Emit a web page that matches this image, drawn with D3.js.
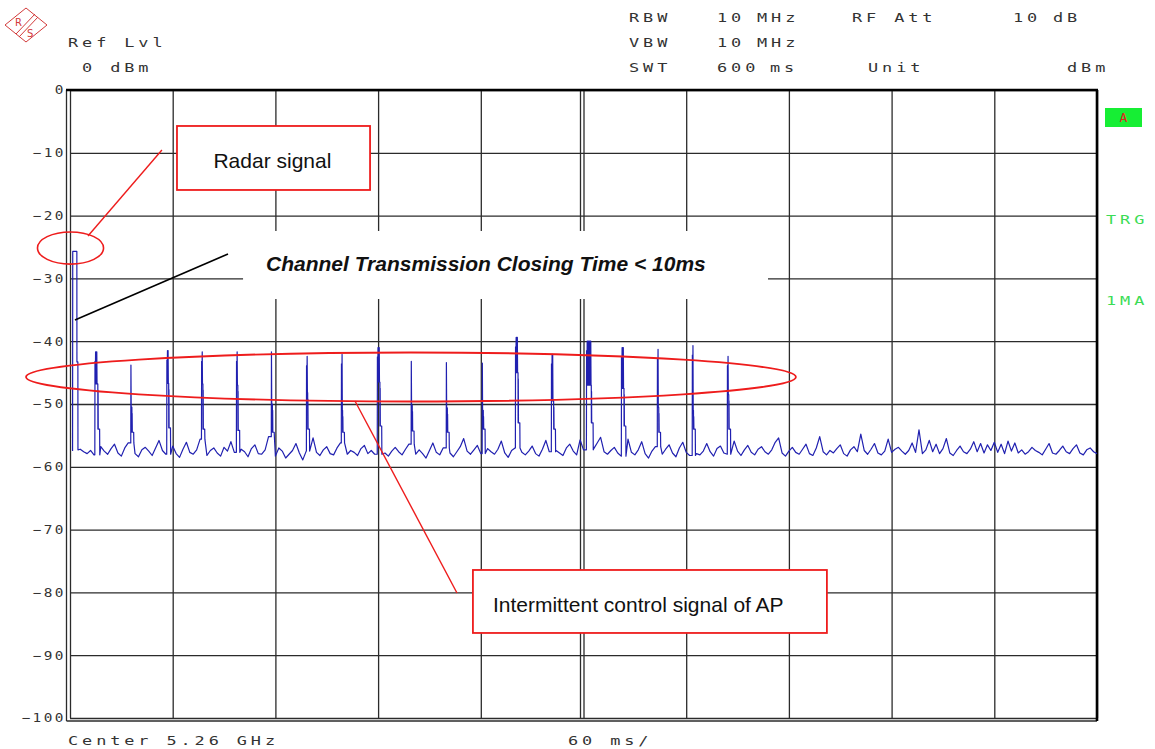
<!DOCTYPE html>
<html>
<head>
<meta charset="utf-8">
<script src="https://cdn.jsdelivr.net/npm/d3@7"></script>
<style>
  body { margin: 0; background: #fff; }
  text.inst { font-family: "DejaVu Sans Mono", monospace; font-size: 13px; fill: #333; letter-spacing: 3px; }
  text.note { font-family: "Liberation Sans", Arial, sans-serif; font-size: 21px; fill: #111; }
</style>
</head>
<body>
<svg id="chart" width="1155" height="749"></svg>
<script>

/*********************/
/*** DATA ***/
/*********************/

// grid: 10 dB/div, 60 ms/div (zero span, 600 ms sweep)
const yTicks = [0, -10, -20, -30, -40, -50, -60, -70, -80, -90, -100];
const xTicks = [0, 60, 120, 180, 240, 300, 360, 420, 480, 540, 600];

// radar burst at the very start of the sweep
const radarTimes  = [1.5, 1.6, 4.0, 4.05, 4.6, 4.65];
const radarLevels = [-57.5, -25.7, -25.7, -43.3, -43.3, -57.3];

// intermittent AP control bursts (ms, dBm)
const spikeTimes     = [14.6, 35.6, 56.6, 76.9, 97.3, 117.7, 138.2, 158.6, 179.6, 199.4, 219.9, 240.9, 260.3, 281.3, 301.8, 322.2, 343.2, 363.6, 384.1];
const spikePeaks     = [-43.2, -43.8, -43.0, -43.2, -43.2, -41.7, -43.9, -43.6, -42.5, -43.2, -43.4, -43.5, -40.9, -43.6, -41.5, -42.5, -42.8, -42.2, -43.9];
const spikeShoulders = [-46.8, -50.5, -46.7, -46.8, -47.0, -50.0, -48.2, -51.0, -46.5, -50.2, -50.6, -51.0, -45.0, -49.5, -47.0, -47.5, -50.5, -51.0, -48.5];
const spikeTails     = [-54.0, -54.5, -53.8, -54.0, -54.2, -54.5, -54.0, -54.5, -53.5, -54.3, -54.5, -54.0, -53.0, -54.0, -53.0, -53.5, -54.5, -54.0, -54.0];
const spikeWidths    = [1.4, 0.3, 0.8, 0.5, 0.5, 0.3, 0.4, 0.4, 1.2, 0.3, 0.3, 0.3, 1.2, 1.0, 2.5, 1.2, 0.5, 0.4, 0.5];

// noise floor, one reading every 2 ms from 6 ms to 600 ms
const noiseTimes = d3.range(6, 601, 2);
const noiseLevels = [
  -57.2,-57.6,-57.9,-57.4,-58.1,-57.3,-56.8,-57.5,-58.0,-57.1,-56.4,-57.8,-58.3,-57.0,-56.2,-57.6,-57.9,-58.4,-57.3,-56.9,
  -57.5,-58.2,-57.0,-55.8,-57.4,-58.0,-57.6,-56.7,-57.9,-58.5,-57.2,-56.1,-57.7,-58.0,-57.3,-55.6,-57.8,-58.2,-57.4,-57.0,
  -57.8,-58.3,-56.9,-57.5,-56.0,-57.7,-58.1,-57.2,-57.6,-58.4,-57.1,-56.5,-57.9,-58.0,-57.3,-55.2,-57.6,-58.3,-57.0,-57.5,
  -58.6,-58.0,-57.4,-56.3,-57.8,-58.9,-57.5,-56.0,-55.4,-57.7,-58.2,-57.3,-56.8,-57.9,-58.1,-57.0,-56.2,-57.6,-58.0,-57.4,
  -57.7,-58.2,-57.1,-56.6,-57.9,-57.4,-58.0,-55.9,-57.3,-57.8,-58.3,-57.5,-56.9,-57.6,-58.1,-57.2,-56.4,-57.8,-58.0,-57.3,
  -57.9,-58.6,-57.4,-56.2,-57.7,-58.1,-57.0,-56.5,-57.8,-58.4,-57.6,-56.8,-55.5,-57.5,-58.0,-57.3,-56.6,-57.9,-58.2,-57.1,
  -57.6,-58.0,-57.2,-55.9,-57.8,-58.5,-57.4,-57.0,-56.3,-57.7,-58.1,-57.5,-56.7,-57.9,-58.3,-57.2,-55.8,-57.6,-58.0,-57.4,
  -57.8,-58.2,-57.0,-56.4,-57.5,-58.1,-55.7,-57.3,-57.9,-58.4,-57.1,-56.2,-55.3,-57.6,-58.0,-57.4,-56.9,-57.8,-58.3,-57.2,
  -55.6,-57.7,-58.1,-57.3,-56.0,-57.9,-58.6,-57.5,-56.8,-57.6,-58.0,-57.2,-56.5,-57.8,-58.4,-57.0,-56.1,-57.7,-58.2,-57.4,
  -57.9,-58.1,-57.5,-56.3,-57.6,-58.3,-57.1,-56.7,-57.8,-58.0,-57.4,-55.9,-57.5,-58.2,-57.3,-56.6,-57.7,-58.1,-57.2,-56.8,
  -57.6,-58.0,-57.3,-56.1,-55.4,-57.8,-58.3,-57.5,-56.9,-57.7,-58.0,-57.2,-56.4,-57.9,-58.2,-57.0,-55.2,-57.6,-58.1,-57.4,
  -57.8,-57.1,-56.5,-57.9,-58.3,-57.3,-56.8,-57.6,-54.8,-57.4,-58.0,-57.2,-56.3,-57.8,-58.1,-57.5,-55.6,-57.7,-57.2,-56.9,
  -57.5,-58.0,-57.4,-56.2,-57.7,-54.1,-57.9,-57.3,-55.8,-57.6,-56.4,-57.9,-57.1,-55.5,-57.8,-58.2,-57.4,-56.7,-57.6,-57.9,
  -57.2,-56.0,-57.6,-56.3,-57.8,-56.5,-57.4,-56.1,-57.7,-56.4,-57.9,-55.9,-57.5,-56.2,-57.8,-57.3,-58.0,-57.6,-56.9,-57.4,
  -57.7,-58.1,-57.2,-56.3,-57.8,-58.0,-57.4,-56.7,-57.6,-57.9,-57.1,-56.5,-57.8,-58.1,-57.3,-57.0,-57.6,-57.9
];

/*********************/
/*** INIT VARIABLE ***/
/*********************/

let svg = d3.select("#chart");

let margin = {top: 90, right: 58, bottom: 31, left: 70},
    width  = 1155 - margin.left - margin.right,
    height = 749 - margin.top - margin.bottom;

let x = d3.scaleLinear().domain([0, 600]).range([margin.left, margin.left + width]),
    y = d3.scaleLinear().domain([-100, 0]).range([margin.top + height, margin.top]);

const red = "#ee1c1c", grid = "#2b2b2b";

/********************************/
/*** HELPERS ***/
/********************************/

// one burst: sharp peak, shoulder, short tail, back to the floor
function spike_points(i, floor) {
    let t = spikeTimes[i], w = spikeWidths[i];
    let p = [[t - 0.1, floor], [t, spikePeaks[i]], [t + 0.15, spikeShoulders[i]]];
    for (let k = 0.35; k < w; k += 0.35) {
        p.push([t + k, spikePeaks[i] + 1.5]);
        p.push([t + k + 0.15, spikeShoulders[i]]);
    }
    p.push([t + w + 0.25, spikeShoulders[i]]);
    p.push([t + w + 0.3, spikeTails[i]]);
    p.push([t + w + 0.4, spikeShoulders[i] - 1]);
    p.push([t + w + 0.5, spikeTails[i]]);
    p.push([t + w + 1.3, spikeTails[i]]);
    p.push([t + w + 1.4, floor]);
    return p;
}

function build_trace() {
    let trace = radarTimes.map((t, i) => [t, radarLevels[i]]);
    let si = 0, last = noiseLevels[0];
    noiseTimes.forEach((t, i) => {
        while (si < spikeTimes.length && spikeTimes[si] <= t) {
            trace.push(...spike_points(si, last));
            si++;
        }
        let busy = si > 0 ? spikeTimes[si - 1] + spikeWidths[si - 1] + 1.4 : -1;
        if (t > busy) trace.push([t, noiseLevels[i]]);
        last = noiseLevels[i];
    });
    return trace;
}

// analyzer font: wide, thin glyphs
function inst_text(str, px, py) {
    return svg.append("text").attr("class", "inst")
        .attr("transform", `translate(${px}, ${py}) scale(1.3, 1)`)
        .text(str);
}

/********************************/
/*** HEADER ***/
/********************************/

// R&S logo
let logo = svg.append("g").attr("stroke", "#d23a3a").attr("fill", "none").attr("stroke-width", 1);
logo.append("path").attr("d", "M5,25 L26,8 L47,25 L26,42 Z");
logo.append("path").attr("d", "M35,14 L16,34 M38,17 L19,37");
svg.append("text").attr("x", 15).attr("y", 26).attr("font-size", 10).attr("fill", "#d23a3a")
    .attr("font-family", "DejaVu Sans").text("R");
svg.append("text").attr("x", 27).attr("y", 37).attr("font-size", 10).attr("fill", "#d23a3a")
    .attr("font-family", "DejaVu Sans").text("S");

inst_text("Ref Lvl", 68, 47);
inst_text("0 dBm", 82, 72);

inst_text("RBW", 629, 22);
inst_text("10", 717, 22);
inst_text("MHz", 757, 22);
inst_text("RF Att", 852, 22);
inst_text("10", 1013, 22);
inst_text("dB", 1053, 22);

inst_text("VBW", 629, 47);
inst_text("10", 717, 47);
inst_text("MHz", 757, 47);

inst_text("SWT", 629, 72);
inst_text("600", 717, 72);
inst_text("ms", 770, 72);
inst_text("Unit", 868, 72);
inst_text("dBm", 1067, 72);

inst_text("Center 5.26 GHz", 68, 745);
inst_text("60 ms/", 568, 745);

// side annotations
svg.append("rect").attr("x", 1105).attr("y", 108).attr("width", 37).attr("height", 19).attr("fill", "#16ee34");
svg.append("text").attr("x", 1123.5).attr("y", 122).attr("text-anchor", "middle")
    .attr("font-family", "DejaVu Sans Mono").attr("font-size", 13).attr("fill", "#e02020").text("A");
inst_text("TRG", 1106, 224).style("fill", "#3bdc55");
inst_text("1MA", 1106, 305).style("fill", "#3bdc55");

/********************************/
/*** GRID ***/
/********************************/

svg.append("g")
    .attr("transform", `translate(${margin.left}, 0)`)
    .call(d3.axisLeft(y).tickValues(yTicks).tickSize(-width).tickFormat(d3.format("d")))
    .call((g) => g.select(".domain").remove())
    .call((g) => g.selectAll("line").attr("stroke", grid).attr("stroke-width", 1.3))
    .call((g) => g.selectAll("text")
        .attr("x", -3.5)
        .attr("transform", "scale(1.2, 1)")
        .attr("font-family", "DejaVu Sans Mono").attr("font-size", 12)
        .attr("fill", "#333").style("letter-spacing", "2px"));

svg.append("g")
    .attr("transform", `translate(0, ${margin.top + height})`)
    .call(d3.axisBottom(x).tickValues(xTicks).tickSize(-height).tickFormat(""))
    .call((g) => g.select(".domain").remove())
    .call((g) => g.selectAll("line").attr("stroke", grid).attr("stroke-width", 1.3));

// frame: double left / bottom / centre lines, heavy top and right
let frame = svg.append("g").attr("stroke", grid).attr("fill", "none");
frame.append("line").attr("x1", x(0) - 3.5).attr("x2", x(0) - 3.5).attr("y1", y(0)).attr("y2", y(-100) + 3)
    .attr("stroke-width", 1.3);
frame.append("line").attr("x1", x(0) - 3.5).attr("x2", x(600)).attr("y1", y(-100) + 3).attr("y2", y(-100) + 3)
    .attr("stroke-width", 1.3);
frame.append("line").attr("x1", x(300) - 3).attr("x2", x(300) - 3).attr("y1", y(0)).attr("y2", y(-100))
    .attr("stroke-width", 1.3);
frame.append("line").attr("x1", x(0) - 4).attr("x2", x(600) + 1).attr("y1", y(0)).attr("y2", y(0))
    .attr("stroke", "#000").attr("stroke-width", 2.4);
frame.append("line").attr("x1", x(600)).attr("x2", x(600)).attr("y1", y(0)).attr("y2", y(-100) + 3)
    .attr("stroke", "#000").attr("stroke-width", 2.6);

// white label field hiding the grid behind the closing-time note
svg.append("rect")
    .attr("x", x(101.1)).attr("y", y(-22.45))
    .attr("width", x(407.8) - x(101.1)).attr("height", y(-33.28) - y(-22.45))
    .attr("fill", "#fff");

/********************************/
/*** TRACE ***/
/********************************/

svg.append("path")
    .datum(build_trace())
    .attr("fill", "none")
    .attr("stroke", "#2020b0")
    .attr("stroke-width", 1.2)
    .attr("stroke-linejoin", "round")
    .attr("d", d3.line().x((d) => x(d[0])).y((d) => y(d[1])));

/********************************/
/*** ANNOTATIONS ***/
/********************************/

let notes = svg.append("g");

// radar signal
notes.append("ellipse")
    .attr("cx", x(0.3)).attr("cy", y(-25.16))
    .attr("rx", x(19.3) - x(0)).attr("ry", y(-25.16) - y(-22.6))
    .attr("fill", "none").attr("stroke", red).attr("stroke-width", 1.6);
notes.append("line")
    .attr("x1", x(10.5)).attr("y1", y(-23.25)).attr("x2", x(53.7)).attr("y2", y(-9.55))
    .attr("stroke", red).attr("stroke-width", 1.4);
notes.append("rect")
    .attr("x", x(62.5)).attr("y", y(-5.73))
    .attr("width", x(175.3) - x(62.5)).attr("height", y(-15.92) - y(-5.73))
    .attr("fill", "#fff").attr("stroke", red).attr("stroke-width", 1.8);
notes.append("text").attr("class", "note").attr("x", x(83.8)).attr("y", y(-12.42)).text("Radar signal");

// closing time
notes.append("line")
    .attr("x1", x(2.9)).attr("y1", y(-36.62)).attr("x2", x(92.3)).attr("y2", y(-26.11))
    .attr("stroke", "#000").attr("stroke-width", 1.6);
notes.append("text").attr("class", "note")
    .attr("x", x(114.5)).attr("y", y(-28.82))
    .attr("font-weight", "bold").attr("font-style", "italic")
    .text("Channel Transmission Closing Time < 10ms");

// AP control bursts
notes.append("ellipse")
    .attr("cx", x(199.2)).attr("cy", y(-45.7))
    .attr("rx", x(224.9) - x(0)).attr("ry", y(-45.7) - y(-41.8))
    .attr("fill", "none").attr("stroke", red).attr("stroke-width", 1.8);
notes.append("line")
    .attr("x1", x(166.5)).attr("y1", y(-49.52)).attr("x2", x(226.1)).attr("y2", y(-80.1))
    .attr("stroke", red).attr("stroke-width", 1.4);
notes.append("rect")
    .attr("x", x(235.4)).attr("y", y(-76.43))
    .attr("width", x(442.2) - x(235.4)).attr("height", y(-86.46) - y(-76.43))
    .attr("fill", "#fff").attr("stroke", red).attr("stroke-width", 1.8);
notes.append("text").attr("class", "note").attr("x", x(247.1)).attr("y", y(-83.12))
    .text("Intermittent control signal of AP");

</script>
</body>
</html>
